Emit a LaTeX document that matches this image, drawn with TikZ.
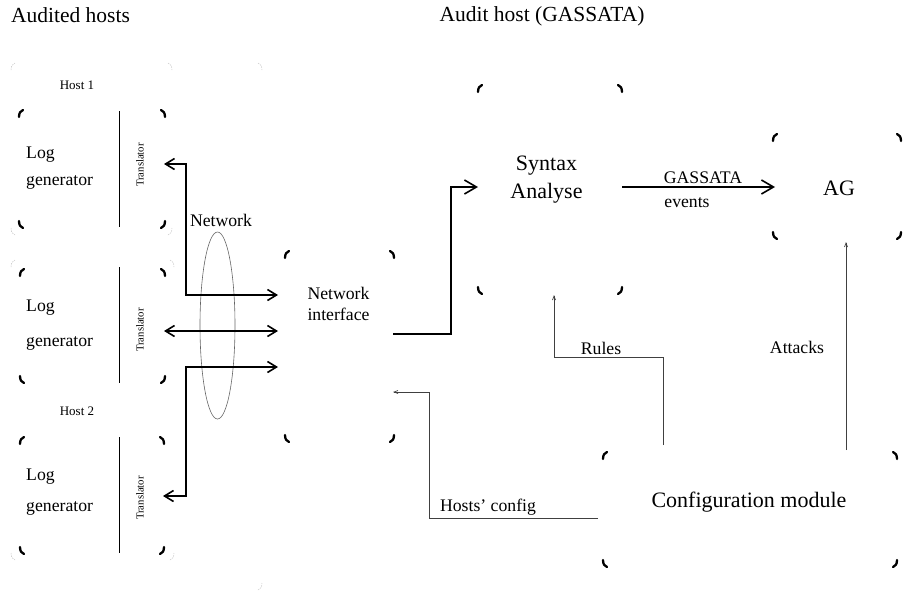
\documentclass[tikz,border=0pt]{standalone}
\usepackage{fontspec}
\setmainfont{Liberation Serif}
\usetikzlibrary{arrows.meta,shapes.geometric}
\newcommand\mkTL[2]{\draw[#1] ([yshift=-7pt]#2) .. controls ([yshift=-3pt]#2) and ([xshift=1.5pt,yshift=-0.8pt]#2) .. ([xshift=4pt]#2);}
\newcommand\mkTR[2]{\draw[#1] ([xshift=-4pt]#2) .. controls ([xshift=-1.5pt,yshift=-0.8pt]#2) and ([yshift=-3pt]#2) .. ([yshift=-7pt]#2);}
\newcommand\mkBL[2]{\draw[#1] ([yshift=7pt]#2) .. controls ([yshift=3pt]#2) and ([xshift=1.5pt,yshift=0.8pt]#2) .. ([xshift=4pt]#2);}
\newcommand\mkBR[2]{\draw[#1] ([xshift=-4pt]#2) .. controls ([xshift=-1.5pt,yshift=0.8pt]#2) and ([yshift=3pt]#2) .. ([yshift=7pt]#2);}
\newcommand\allmarks[2]{\mkTL{#1}{#2.north west}\mkTR{#1}{#2.north east}\mkBL{#1}{#2.south west}\mkBR{#1}{#2.south east}}
\begin{document}
\begin{tikzpicture}[x=1pt,y=-1pt,
  boxn/.style={inner sep=0pt, outer sep=0pt},
  cmark/.style={line width=2.3pt, line cap=round},
  fmark/.style={gray!45, line width=0.5pt, dash pattern=on 1.5pt off 1pt},
  divider/.style={line width=0.9pt},
  lbl/.style={inner sep=0pt, font=\fontsize{17.7pt}{21pt}\selectfont},
  big/.style={inner sep=0pt, font=\fontsize{22pt}{28pt}\selectfont},
  small/.style={inner sep=0pt, font=\fontsize{13pt}{15pt}\selectfont},
  transl/.style={inner sep=0pt, rotate=90, font=\fontsize{10.7pt}{12pt}\selectfont},
  thick arrow/.style={line width=1.6pt, arrows={Straight Barb[length=9pt,width=11pt]-Straight Barb[length=9pt,width=11pt]}},
  fat arrow/.style={line width=1.6pt, -{Straight Barb[length=12pt,width=14pt]}},
  thin arrow/.style={black!75, line width=0.7pt, -{Straight Barb[length=4pt,width=3pt]}}
]
\useasboundingbox (0,0) rectangle (910,595);

% titles
\node[inner sep=0pt, font=\fontsize{21.5pt}{24pt}\selectfont] (tl) at (70.5,15) {Audited hosts};
\node[inner sep=0pt, font=\fontsize{21.5pt}{24pt}\selectfont] (tr) at (542,16) {Audit host (GASSATA)};

% faint group frames
\node[boxn, minimum width=161pt, minimum height=172pt] (g1) at (91.5,149) {};
\node[boxn, minimum width=163pt, minimum height=300pt] (g2) at (92.5,410) {};
\node[boxn, minimum width=251pt, minimum height=527pt] (g0) at (136.5,326.5) {};
\allmarks{fmark}{g1}
\allmarks{fmark}{g2}
\mkTR{fmark}{g0.north east}
\mkBR{fmark}{g0.south east}

% host boxes
\node[boxn, minimum width=146pt, minimum height=118pt] (b1) at (92,169) {};
\node[boxn, minimum width=145pt, minimum height=114pt] (b2) at (92.5,326) {};
\node[boxn, minimum width=144pt, minimum height=117pt] (b3) at (92,495.5) {};
\allmarks{cmark}{b1}
\allmarks{cmark}{b2}
\allmarks{cmark}{b3}
\draw[divider] (119,111) -- (119,227);
\draw[divider] (119,267) -- (119,383);
\draw[divider] (119,437) -- (119,553);
\node[lbl, anchor=west, align=left, font=\fontsize{17.7pt}{27pt}\selectfont] (l1) at (26,168.5) {Log\\generator};
\node[lbl, anchor=west, align=left, font=\fontsize{17.7pt}{35pt}\selectfont] (l2) at (26,325.5) {Log\\generator};
\node[lbl, anchor=west, align=left, font=\fontsize{17.7pt}{31pt}\selectfont] (l3) at (26,492.5) {Log\\generator};
\node[transl] (tr1) at (140,165) {Translator};
\node[transl] (tr2) at (140,330) {Translator};
\node[transl] (tr3) at (140,498) {Translator};
\node[small] (h1) at (77,85) {Host 1};
\node[small] (h2) at (77,411) {Host 2};

% network
\node[ellipse, draw=black!60, line width=0.6pt, minimum width=35pt, minimum height=187pt, inner sep=0pt] (net) at (217.5,325.5) {};
\node[lbl] (netl) at (221,220) {Network};

% network interface
\node[boxn, minimum width=109pt, minimum height=191pt] (ni) at (339.5,346.5) {};
\allmarks{cmark}{ni}
\node[lbl, align=center] (nil) at (338.5,303.5) {Network\\interface};

% syntax analyse
\node[boxn, minimum width=144pt, minimum height=209pt] (syn) at (550,189.5) {};
\allmarks{cmark}{syn}
\node[big, align=center] (synl) at (546.5,180) {Syntax\\Analyse};

% AG
\node[boxn, minimum width=128pt, minimum height=105pt] (ag) at (837,186.5) {};
\allmarks{cmark}{ag}
\node[big] (agl) at (839,188) {AG};

% configuration module
\node[boxn, minimum width=294pt, minimum height=115pt] (conf) at (750,509.5) {};
\allmarks{cmark}{conf}
\node[big] (confl) at (749,502) {Configuration module};

% connector end points
\coordinate (a1s) at (164,164);
\coordinate (a1e) at (278,295);
\coordinate (a2s) at (164,331);
\coordinate (a2e) at (278,331);
\coordinate (a3s) at (163,496);
\coordinate (a3e) at (278,367);
\coordinate (s0) at (393,334);
\coordinate (s1) at (478,187);
\coordinate (e0) at (622,187);
\coordinate (e1) at (775,187);
\coordinate (r0) at (663,445);
\coordinate (r1) at (554,295);
\coordinate (k0) at (846,450);
\coordinate (k1) at (846,242);
\coordinate (c0) at (598,518);
\coordinate (c1) at (393,392);

% network arrows
\draw[thick arrow] (a1s) -- (186,164) -- (186,295) -- (a1e);
\draw[thick arrow] (a2s) -- (a2e);
\draw[thick arrow] (a3s) -- (186,496) -- (186,367) -- (a3e);

% to syntax analyse
\draw[fat arrow] (s0) -- (451,334) -- (451,187) -- (s1);

% GASSATA events
\draw[fat arrow] (e0) -- (e1);
\node[lbl] (gl) at (703,178) {GASSATA};
\node[lbl] (el) at (687,203) {events};

% rules
\draw[thin arrow] (r0) -- (663,357) -- (554,357) -- (r1);
\node[lbl] (rl) at (601,348) {Rules};

% attacks
\draw[thin arrow] (k0) -- (k1);
\node[lbl] (kl) at (797,347) {Attacks};

% hosts' config
\draw[thin arrow] (c0) -- (429,518) -- (429,392) -- (c1);
\node[lbl] (hl) at (488,507) {Hosts’ config};
\end{tikzpicture}
\end{document}
